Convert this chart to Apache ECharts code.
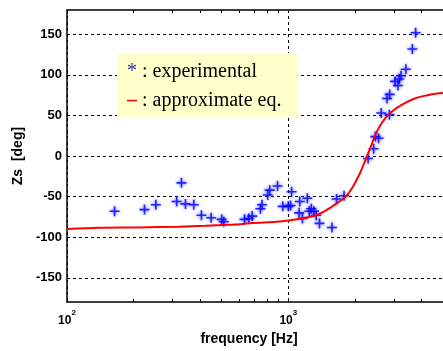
<!DOCTYPE html>
<html>
<head>
<meta charset="utf-8">
<script src="https://cdn.jsdelivr.net/npm/echarts@6/dist/echarts.min.js"></script>
<style>html,body{margin:0;padding:0;background:#fff}#c{width:443px;height:351px}</style>
</head>
<body>
<div id="c"></div>
<script>
// Experimental points (frequency Hz, Zs deg)
const expFreq = [164,224,252,313,329,343,374,405,448,500,511,634,663,687,748,761,807,824,894,944,1000,1024,1035,1119,1127,1158,1219,1244,1270,1305,1337,1383,1575,1652,1786,2294,2430,2472,2558,2630,2793,2871,2863,3034,3130,3173,3230,3396,3636,3760];
const expZs   = [-68,-66,-60,-56,-33,-59,-60,-73,-76,-78,-81,-78,-77,-74,-65,-60,-48,-42,-37,-62,-62,-61,-44,-70,-56,-77,-52,-68,-65,-68,-73,-83,-88,-53,-49,-3,9,24,22,53,71,76,51,92,87,95,99,107,132,152];
// Approximate equation curve
const apxFreq = [100,140,211,318,420,500,607,686,886,1000,1146,1337,1481,1641,1818,1946,2083,2193,2270,2349,2472,2648,2884,3250,3724,4266,4710,5000];
const apxZs   = [-90,-88.5,-88,-87,-86,-85,-84,-82.5,-81,-79.5,-77,-73,-67,-59,-50,-39,-24,-10,0,10,26,41,53,63,71,75,77,78];
// Tick values
const xMajor = [100,1000];
const xMinor = [100,200,300,400,500,600,700,800,900,1000,2000,3000,4000,5000];
const yTicks = [-150,-100,-50,0,50,100,150];

const chart = echarts.init(document.getElementById('c'), null, {renderer:'canvas'});
const star = 'path://M4.2,0H5.8V4.2H10V5.8H5.8V10H4.2V5.8H0V4.2H4.2Z';
const font = 'Liberation Sans';
chart.setOption({
  animation:false,
  backgroundColor:'#ffffff',
  grid:{left:67, top:10, right:-6, bottom:45, containLabel:false},
  legend:{
    left:117, top:53, orient:'vertical', backgroundColor:'#ffffcc',
    padding:[8,17,6,5], itemGap:8, itemWidth:0, itemHeight:0, icon:'rect',
    itemStyle:{opacity:0}, lineStyle:{opacity:0}, selectedMode:false,
    data:['experimental','approximate eq.'],
    formatter: n => n==='experimental' ? '{s|*} : experimental' : '{d|–} : approximate eq.',
    textStyle:{fontFamily:'Liberation Serif', fontSize:20, color:'#000', lineHeight:21,
      rich:{s:{color:'#3333aa', fontSize:20, fontFamily:'Liberation Serif', lineHeight:21},
            d:{color:'#ff0000', fontSize:20, fontWeight:'bold', fontFamily:'Liberation Serif', lineHeight:21}}}
  },
  xAxis:[
    {type:'log', logBase:10, min:100, max:5000, position:'bottom',
     name:'frequency [Hz]', nameLocation:'middle', nameGap:28,
     nameTextStyle:{fontFamily:font, fontWeight:'bold', fontSize:14, color:'#000', padding:[0,12,0,0]},
     axisLine:{show:true, onZero:false, lineStyle:{color:'#000', width:1.5}},
     axisTick:{show:false},
     axisLabel:{customValues:xMajor, margin:7,
       formatter: v => '{b|10}{s|' + Math.round(Math.log10(v)) + '}',
       rich:{b:{fontFamily:font, fontWeight:'bold', fontSize:12, color:'#000', lineHeight:18, verticalAlign:'bottom'},
             s:{fontFamily:font, fontWeight:'bold', fontSize:8, color:'#000', lineHeight:8, verticalAlign:'top'}}},
     splitLine:{show:true, lineStyle:{color:'#000', type:[3,3], width:1}}},
    {type:'log', logBase:10, min:100, max:5000, position:'bottom',
     axisLine:{show:false, onZero:false}, axisLabel:{show:false}, splitLine:{show:false},
     axisTick:{show:true, inside:true, length:3, customValues:xMinor, lineStyle:{color:'#000', width:1}}},
    {type:'log', logBase:10, min:100, max:5000, position:'top',
     axisLine:{show:true, onZero:false, lineStyle:{color:'#000', width:1.5}}, axisLabel:{show:false}, splitLine:{show:false},
     axisTick:{show:true, inside:true, length:3, customValues:xMinor, lineStyle:{color:'#000', width:1}}}
  ],
  yAxis:[{type:'value', min:-180, max:180,
    name:'Zs  [deg]', nameLocation:'middle', nameGap:38, nameRotate:90,
    nameTextStyle:{fontFamily:font, fontWeight:'bold', fontSize:14, color:'#000'},
    axisLine:{show:true, onZero:false, lineStyle:{color:'#000', width:1.5}},
    axisTick:{show:false, customValues:yTicks},
    axisLabel:{customValues:yTicks, margin:5, fontFamily:font, fontWeight:'bold', fontSize:13, color:'#000'},
    splitLine:{show:true, lineStyle:{color:'#000', type:[3,3], width:1}}}],
  series:[
    {name:'experimental', type:'scatter', xAxisIndex:0, symbol:star, symbolSize:10,
     itemStyle:{color:'#0000ff', shadowBlur:3, shadowColor:'rgba(0,0,255,0.8)'},
     data: expFreq.map((f,i)=>[f, expZs[i]]), z:3},
    {name:'approximate eq.', type:'line', xAxisIndex:0, smooth:0.3, showSymbol:false, symbol:'none',
     lineStyle:{color:'#ff0000', width:2}, itemStyle:{color:'#ff0000'},
     data: apxFreq.map((f,i)=>[f, apxZs[i]]), z:4}
  ]
});
</script>
</body>
</html>
